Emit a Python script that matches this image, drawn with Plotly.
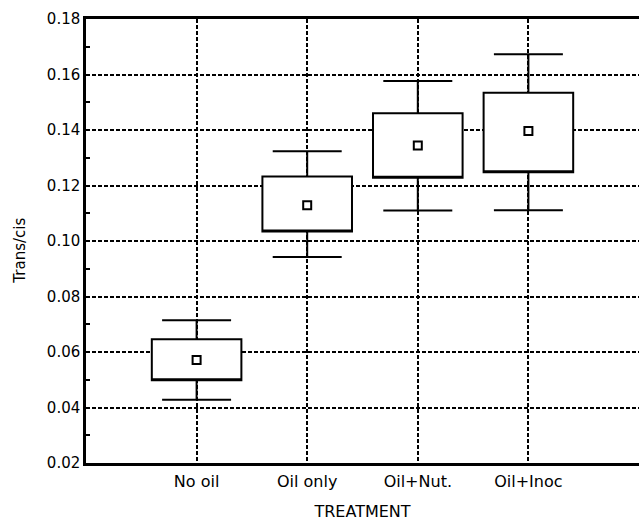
import plotly.graph_objects as go

categories = ["No oil", "Oil only", "Oil+Nut.", "Oil+Inoc"]
q1 = [0.0498, 0.1034, 0.1228, 0.1248]
q3 = [0.0646, 0.1232, 0.1460, 0.1534]
lower_whisker = [0.0428, 0.0942, 0.1110, 0.1111]
upper_whisker = [0.0714, 0.1323, 0.1577, 0.1673]
means = [0.0571, 0.1129, 0.1344, 0.1396]
y_ticks = [0.02, 0.04, 0.06, 0.08, 0.10, 0.12, 0.14, 0.16, 0.18]

FONT = "DejaVu Sans"

fig = go.Figure()
fig.add_trace(go.Box(
    x=categories,
    q1=q1, median=q1, q3=q3,
    lowerfence=lower_whisker, upperfence=upper_whisker,
    width=0.81, whiskerwidth=0.77,
    fillcolor="white",
    line=dict(color="black", width=2),
    boxpoints=False, hoverinfo="skip", showlegend=False,
))
fig.add_trace(go.Scatter(
    x=categories, y=means, mode="markers",
    marker=dict(symbol="square-open", size=8, color="black", line=dict(width=2, color="black")),
    showlegend=False,
))

fig.update_layout(
    width=639, height=521,
    margin=dict(l=86, r=0, t=19, b=58),
    paper_bgcolor="white", plot_bgcolor="white",
    font=dict(family=FONT, color="black", size=15),
    xaxis=dict(
        type="category", range=[-1, 4],
        showgrid=True, gridcolor="black", gridwidth=2, griddash="4px,2px",
        showline=True, linecolor="black", linewidth=2.5, mirror=True,
        ticks="", tickfont=dict(family=FONT, size=16), ticklabelstandoff=2,
        title=dict(text="TREATMENT", font=dict(family=FONT, size=16), standoff=20),
        zeroline=False,
    ),
    yaxis=dict(
        range=[0.02, 0.18], tickvals=y_ticks, tickformat=".2f",
        showgrid=True, gridcolor="black", gridwidth=2, griddash="4px,2px",
        showline=True, linecolor="black", linewidth=2.5,
        ticks="inside", ticklen=4, tickwidth=2, tickcolor="black",
        minor=dict(ticks="inside", ticklen=4, tickwidth=2, tickcolor="black", dtick=0.01, showgrid=False),
        tickfont=dict(family=FONT, size=15),
        zeroline=False,
    ),
    annotations=[dict(
        text="Trans/cis", xref="paper", yref="paper", x=-0.12, y=0.4775,
        textangle=-90, showarrow=False, xanchor="center", yanchor="middle",
        font=dict(family=FONT, size=15),
    )],
)

fig.write_html("out.html")
